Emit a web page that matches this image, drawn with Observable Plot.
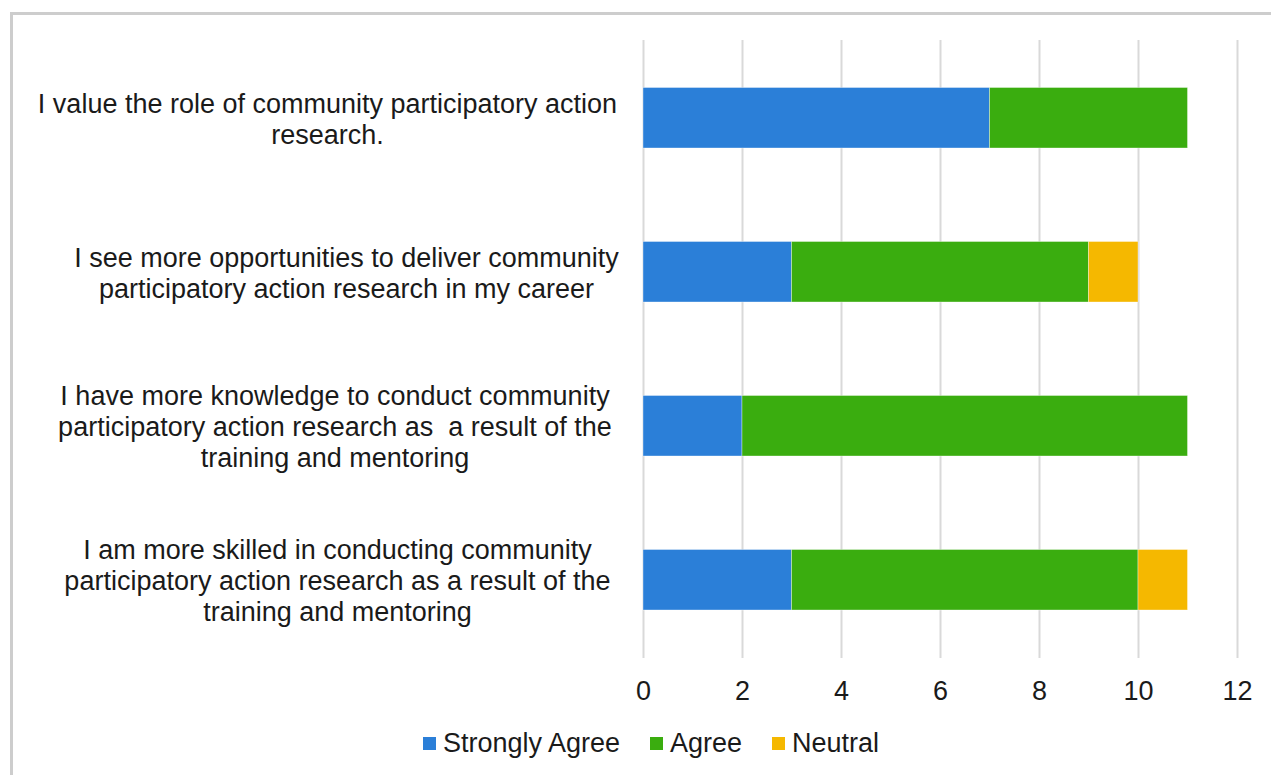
<!DOCTYPE html>
<html>
<head>
<meta charset="utf-8">
<script src="https://cdn.jsdelivr.net/npm/d3@7"></script>
<script src="https://cdn.jsdelivr.net/npm/@observablehq/plot@0.6"></script>
<style>
  html, body { margin: 0; padding: 0; background: #fff; }
  body { width: 1271px; height: 775px; position: relative; overflow: hidden;
         font-family: "Liberation Sans", Arial, sans-serif; }
  #frame { position: absolute; left: 10px; top: 12px; width: 2000px; height: 2000px;
           border-left: 3px solid #cdcdcd; border-top: 3px solid #cdcdcd; box-sizing: border-box; }
  #chart { position: absolute; left: 0; top: 0; }
  #legend { position: absolute; left: 0; top: 727px; width: 1271px; height: 32px; }
  .item { position: absolute; top: 0; height: 32px; display: flex; align-items: center;
          font-size: 27px; color: #1a1a1a; white-space: nowrap; }
  .sw { width: 13px; height: 13px; margin-right: 7px; display: inline-block; }
</style>
</head>
<body>
<div id="frame"></div>
<div id="chart"></div>
<div id="legend"></div>
<script>
// ---- data ----
const categories = [
  "I value the role of community participatory action\nresearch.",
  "I see more opportunities to deliver community\nparticipatory action research in my career",
  "I have more knowledge to conduct community\nparticipatory action research as  a result of the\ntraining and mentoring",
  "I am more skilled in conducting community\nparticipatory action research as a result of the\ntraining and mentoring"
];
const responses = ["Strongly Agree", "Agree", "Neutral"];
const stronglyAgree = [7, 3, 2, 3];
const agree = [4, 6, 9, 7];
const neutral = [0, 1, 0, 1];
const xTicks = [0, 2, 4, 6, 8, 10, 12];
const colors = ["#2b7fd8", "#3aad0f", "#f5b800"];

// long-form table built from the arrays
const series = [stronglyAgree, agree, neutral];
const table = [];
categories.forEach((q, i) => {
  responses.forEach((r, j) => table.push({question: q, response: r, value: series[j][i]}));
});

const labelCenters = [327, 346, 334.5, 337];
const marginLeft = 643;

const axes = categories.map((c, i) => Plot.axisY({
  ticks: [c],
  tickSize: 0,
  tickPadding: 0,
  textAnchor: "middle",
  lineHeight: 1.15,
  label: null,
  dx: labelCenters[i] - marginLeft,
  tickFormat: d => d
}));

const chart = Plot.plot({
  width: 1271,
  height: 715,
  marginLeft: marginLeft,
  marginRight: 34,
  marginTop: 40,
  marginBottom: 57,
  style: {fontSize: "27px", fontFamily: "'Liberation Sans', Arial, sans-serif", color: "#1a1a1a", background: "transparent"},
  x: {domain: [0, 12], label: null},
  y: {domain: categories, padding: 0, label: null},
  color: {domain: responses, range: colors},
  marks: [
    Plot.gridX({ticks: xTicks, stroke: "#d9d9d9", strokeWidth: 2, strokeOpacity: 1}),
    Plot.barX(table, {
      x: "value", y: "question", fill: "response", order: responses,
      insetTop: 46.5, insetBottom: 47,
      stroke: "white", strokeWidth: 0.8, strokeOpacity: 0.45
    }),
    Plot.axisX({ticks: xTicks, tickSize: 0, tickPadding: 22, label: null, tickFormat: d => String(d)}),
    ...axes
  ]
});
document.getElementById("chart").appendChild(chart);

// legend
const legend = document.getElementById("legend");
const legendX = [423, 650, 772];
responses.forEach((r, i) => {
  const d = document.createElement("div");
  d.className = "item";
  d.style.left = legendX[i] + "px";
  const s = document.createElement("span");
  s.className = "sw";
  s.style.background = colors[i];
  d.appendChild(s);
  d.appendChild(document.createTextNode(r));
  legend.appendChild(d);
});
</script>
</body>
</html>
